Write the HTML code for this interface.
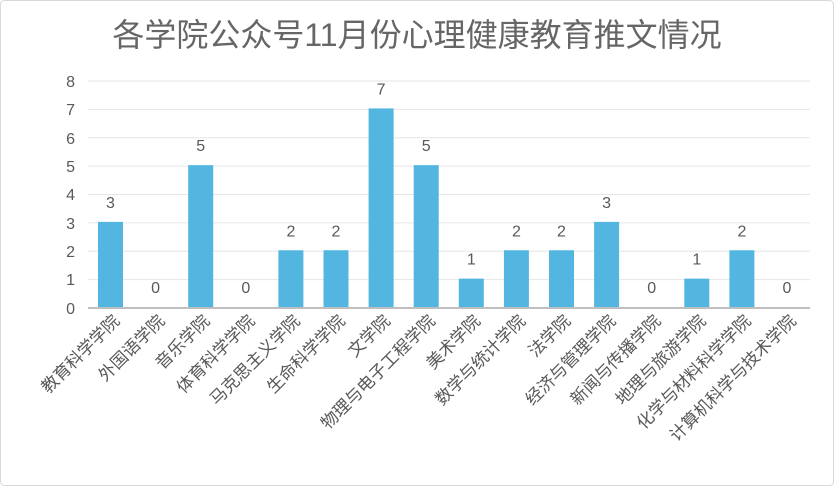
<!DOCTYPE html>
<html><head><meta charset="utf-8"><style>
html,body{margin:0;padding:0;background:#fff;}
svg text{font-family:"Liberation Sans","Noto Sans CJK SC",sans-serif;fill:#595959;}
</style></head><body>
<svg width="834" height="486" viewBox="0 0 834 486" xmlns="http://www.w3.org/2000/svg">
<rect x="0.5" y="0.5" width="833" height="485" rx="4" fill="#fff" stroke="#d9d9d9"/>
<text x="417" y="46" font-size="32" text-anchor="middle" style="fill:#666">各学院公众号11月份心理健康教育推文情况</text>
<g stroke="#e6e6e6" stroke-width="1">
<line x1="88" x2="810" y1="81" y2="81"/><line x1="88" x2="810" y1="109.4" y2="109.4"/>
<line x1="88" x2="810" y1="137.8" y2="137.8"/><line x1="88" x2="810" y1="166.1" y2="166.1"/>
<line x1="88" x2="810" y1="194.5" y2="194.5"/><line x1="88" x2="810" y1="222.9" y2="222.9"/>
<line x1="88" x2="810" y1="251.3" y2="251.3"/><line x1="88" x2="810" y1="279.6" y2="279.6"/>
</g>
<g font-size="16" text-anchor="end">
<text x="75" y="87">8</text><text x="75" y="115">7</text><text x="75" y="144">6</text><text x="75" y="172">5</text>
<text x="75" y="200">4</text><text x="75" y="229">3</text><text x="75" y="257">2</text><text x="75" y="285">1</text><text x="75" y="314">0</text>
</g>
<g fill="#52b6e0" id="bars"></g>
<line x1="88" x2="810" y1="308" y2="308" stroke="#bfbfbf" stroke-width="2"/>
<g id="vals" font-size="16" text-anchor="middle"></g>
<g id="labs" font-size="17" text-anchor="end"></g>
</svg>
<script>
var d=[["教育科学学院",3],["外国语学院",0],["音乐学院",5],["体育科学学院",0],["马克思主义学院",2],["生命科学学院",2],["文学院",7],["物理与电子工程学院",5],["美术学院",1],["数学与统计学院",2],["法学院",2],["经济与管理学院",3],["新闻与传播学院",0],["地理与旅游学院",1],["化学与材料科学学院",2],["计算机科学与技术学院",0]];
var ns="http://www.w3.org/2000/svg",b=document.getElementById("bars"),v=document.getElementById("vals"),l=document.getElementById("labs");
d.forEach(function(e,i){var c=110.5+i*45.1,h=e[1]*28.37;
if(h>0){var r=document.createElementNS(ns,"rect");r.setAttribute("x",c-12.5);r.setAttribute("y",307-h);r.setAttribute("width",25);r.setAttribute("height",h);b.appendChild(r);}
var t=document.createElementNS(ns,"text");t.setAttribute("x",c);t.setAttribute("y",307-h-14);t.textContent=e[1];v.appendChild(t);
var s=document.createElementNS(ns,"text");s.setAttribute("transform","translate("+(c+10)+",322) rotate(-45)");s.textContent=e[0];l.appendChild(s);});
</script>
</body></html>
